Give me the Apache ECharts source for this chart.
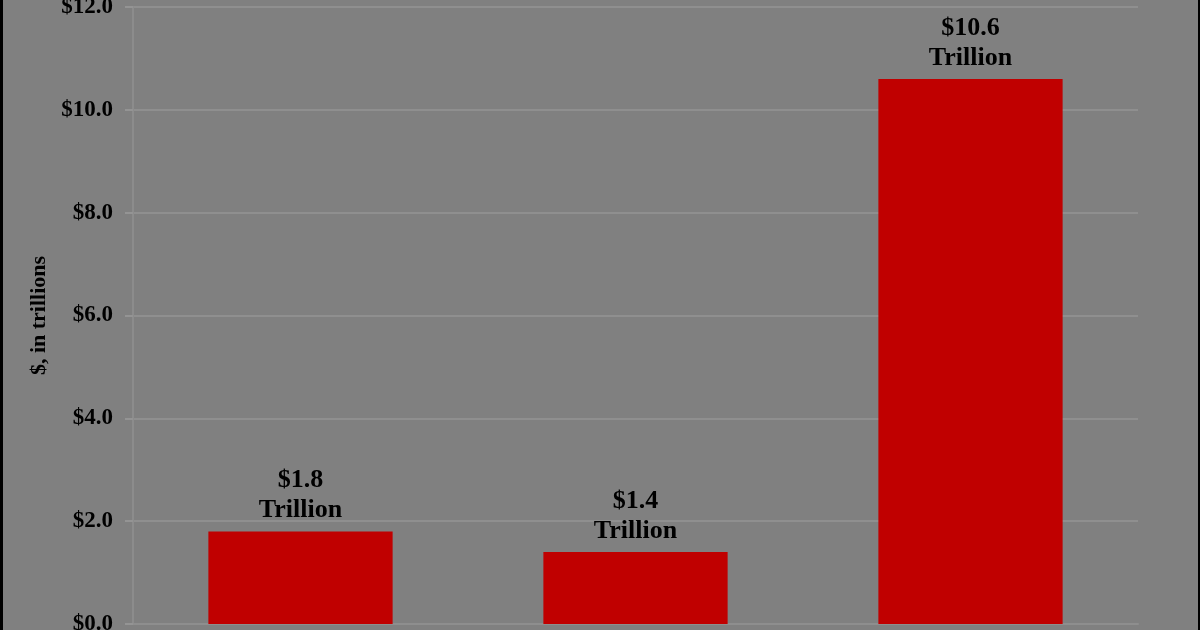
<!DOCTYPE html>
<html>
<head>
<meta charset="utf-8">
<script src="https://cdn.jsdelivr.net/npm/echarts@6/dist/echarts.min.js"></script>
<style>
html,body{margin:0;padding:0;background:#808080;}
#chart{width:1200px;height:630px;}
</style>
</head>
<body>
<div id="chart"></div>
<script>
var categories = ['A', 'B', 'C'];
var values = [1.8, 1.4, 10.6];
var valueLabels = ['$1.8', '$1.4', '$10.6'];
var yTicks = { min: 0, max: 12, interval: 2 };
var yAxisName = '$, in trillions';

var chart = echarts.init(document.getElementById('chart'));
var font = '"Liberation Serif", "Times New Roman", serif';
chart.setOption({
  backgroundColor: '#808080',
  animation: false,
  grid: { left: 133, right: 62, top: 7, bottom: 6, containLabel: false, outerBoundsMode: 'none' },
  graphic: [
    { type: 'rect', left: 0, top: 0, shape: { width: 3, height: 630 }, style: { fill: '#000' }, z: 100 },
    { type: 'rect', right: 0, top: 0, shape: { width: 2, height: 630 }, style: { fill: '#000' }, z: 100 }
  ],
  xAxis: {
    type: 'category',
    data: categories,
    axisLine: { show: true, lineStyle: { color: '#8e8e8e', width: 2 } },
    axisTick: { show: false },
    axisLabel: { show: false }
  },
  yAxis: {
    type: 'value',
    min: yTicks.min,
    max: yTicks.max,
    interval: yTicks.interval,
    name: yAxisName,
    nameLocation: 'middle',
    nameGap: 80,
    nameRotate: 90,
    nameTextStyle: { fontFamily: font, fontWeight: 'bold', fontSize: 22, color: '#000' },
    axisLine: { show: true, lineStyle: { color: '#8c8c8c', width: 2 } },
    axisTick: { show: true, length: 8, lineStyle: { color: '#949494', width: 2 } },
    splitLine: { show: true, lineStyle: { color: '#8f8f8f', width: 2 } },
    axisLabel: {
      fontFamily: font, fontWeight: 'bold', fontSize: 23, color: '#000', margin: 20,
      formatter: function (v) { return '$' + v.toFixed(1); }
    }
  },
  series: [{
    type: 'bar',
    data: values,
    barWidth: '55%',
    itemStyle: { color: '#c00000' },
    label: {
      show: true,
      position: 'top',
      distance: 6,
      fontFamily: font,
      fontWeight: 'bold',
      fontSize: 26,
      lineHeight: 30,
      color: '#000',
      formatter: function (p) { return valueLabels[p.dataIndex] + '\nTrillion'; }
    }
  }]
});
</script>
</body>
</html>
